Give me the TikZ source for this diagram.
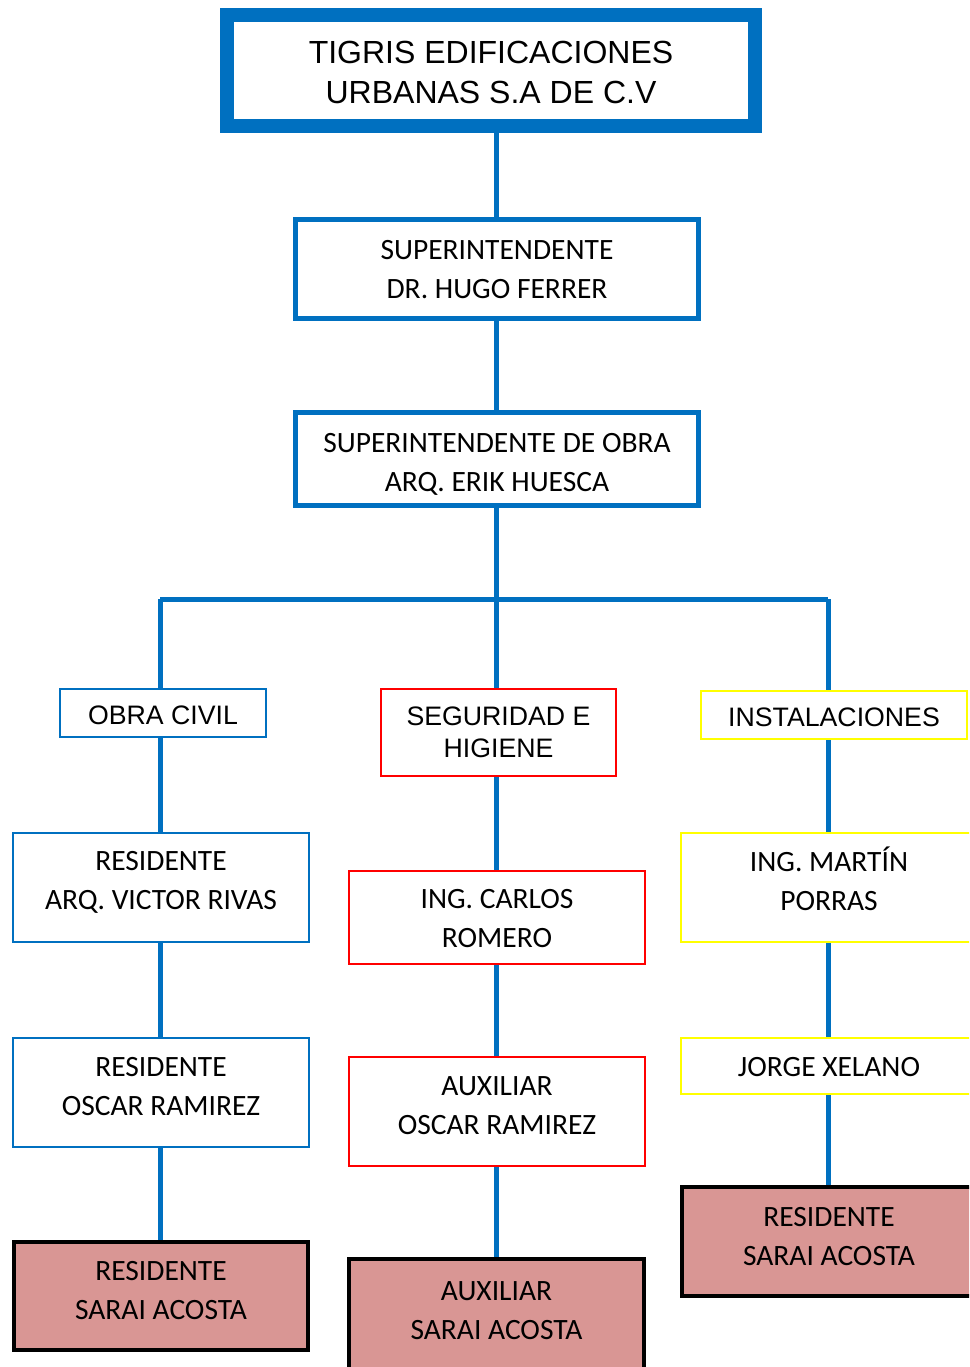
\documentclass[tikz,border=0pt]{standalone}
\usepackage{fontspec}
\newfontfamily\arialf{Liberation Sans}
\newfontfamily\calibrif{Carlito}
\definecolor{cblue}{HTML}{0070C0}
\definecolor{cred}{HTML}{FF0000}
\definecolor{cyel}{HTML}{FFFF00}
\definecolor{cpink}{HTML}{D99694}
\tikzset{
  box/.style={draw, rectangle, fill=white, align=center, inner sep=0pt},
  titlebox/.style={box, draw=cblue, line width=14pt, font=\arialf\fontsize{32}{40}\selectfont},
  supbox/.style={box, draw=cblue, line width=5pt, font=\calibrif\fontsize{29.5}{39}\selectfont},
  headbox/.style={box, line width=2pt, font=\arialf\fontsize{26.7}{32}\selectfont},
  personbox/.style={box, line width=2pt, font=\calibrif\fontsize{29.5}{39}\selectfont},
  pinkbox/.style={box, draw=black, fill=cpink, line width=4pt, font=\calibrif\fontsize{29.5}{39}\selectfont},
  tp/.style 2 args={text height=#1pt, text depth=#2pt},
  conn/.style={draw=cblue, line width=5pt}
}
\begin{document}
\begin{tikzpicture}[x=1pt,y=-1pt]
\useasboundingbox (0,0) rectangle (969,1367);
\clip (0,0) rectangle (969,1367);
% nodes
\node[titlebox, tp={73}{7}, minimum width=528pt, minimum height=111pt] (title) at (491,70.5) {TIGRIS EDIFICACIONES\\URBANAS S.A DE C.V};
\node[supbox, tp={69.5}{10.5}, minimum width=403pt, minimum height=99pt] (sup) at (497,269) {SUPERINTENDENTE\\DR. HUGO FERRER};
\node[supbox, tp={72.5}{7.5}, minimum width=403pt, minimum height=93pt] (obra) at (497,459) {SUPERINTENDENTE DE OBRA\\ARQ. ERIK HUESCA};
\node[headbox, tp={31.3}{8.7}, draw=cblue, minimum width=206pt, minimum height=48pt] (civil) at (163,713) {OBRA CIVIL};
\node[headbox, tp={64.8}{15.2}, draw=cred, minimum width=235pt, minimum height=87pt] (seg) at (498.5,732.5) {SEGURIDAD E\\HIGIENE};
\node[headbox, tp={31.3}{8.7}, draw=cyel, minimum width=266pt, minimum height=48pt] (inst) at (834,715) {INSTALACIONES};
\node[personbox, tp={62}{18}, draw=cblue, minimum width=296pt, minimum height=109pt] (res1) at (161,887.5) {RESIDENTE\\ARQ. VICTOR RIVAS};
\node[personbox, tp={70}{10}, draw=cred, minimum width=296pt, minimum height=93pt] (carlos) at (497,917.5) {ING. CARLOS\\ROMERO};
\node[personbox, tp={63}{17}, draw=cyel, minimum width=296pt, minimum height=109pt] (martin) at (829,887.5) {ING. MARTÍN\\PORRAS};
\node[personbox, tp={63}{17}, draw=cblue, minimum width=296pt, minimum height=109pt] (res2) at (161,1092.5) {RESIDENTE\\OSCAR RAMIREZ};
\node[personbox, tp={63}{17}, draw=cred, minimum width=296pt, minimum height=109pt] (aux) at (497,1111.5) {AUXILIAR\\OSCAR RAMIREZ};
\node[personbox, tp={30.5}{9.5}, draw=cyel, minimum width=296pt, minimum height=56pt] (jorge) at (829,1066) {JORGE XELANO};
\node[pinkbox, tp={63.5}{16.5}, minimum width=294pt, minimum height=108pt] (pink1) at (161,1296) {RESIDENTE\\SARAI ACOSTA};
\node[pinkbox, tp={64.5}{15.5}, minimum width=295pt, minimum height=112pt] (pink2) at (496.5,1315) {AUXILIAR\\SARAI ACOSTA};
\node[pinkbox, tp={64}{16}, minimum width=294pt, minimum height=109pt] (pink3) at (829,1241.5) {RESIDENTE\\SARAI ACOSTA};
% connectors
\coordinate (bm) at (496,599);
\coordinate (bl) at (160,599);
\coordinate (br) at (828,599);
\draw[conn] (title.south -| bm) -- (sup.north -| bm);
\draw[conn] (sup.south -| bm) -- (obra.north -| bm);
\draw[conn] (obra.south -| bm) -- (seg.north -| bm);
\draw[conn] (bl) -- (br);
\draw[conn] (bl) -- (civil.north -| bl);
\draw[conn] (br) -- (inst.north -| br);
\draw[conn] (civil.south -| bl) -- (res1.north -| bl);
\draw[conn] (res1.south -| bl) -- (res2.north -| bl);
\draw[conn] (res2.south -| bl) -- (pink1.north -| bl);
\draw[conn] (seg.south -| bm) -- (carlos.north -| bm);
\draw[conn] (carlos.south -| bm) -- (aux.north -| bm);
\draw[conn] (aux.south -| bm) -- (pink2.north -| bm);
\draw[conn] (inst.south -| br) -- (martin.north -| br);
\draw[conn] (martin.south -| br) -- (jorge.north -| br);
\draw[conn] (jorge.south -| br) -- (pink3.north -| br);
\end{tikzpicture}
\end{document}
